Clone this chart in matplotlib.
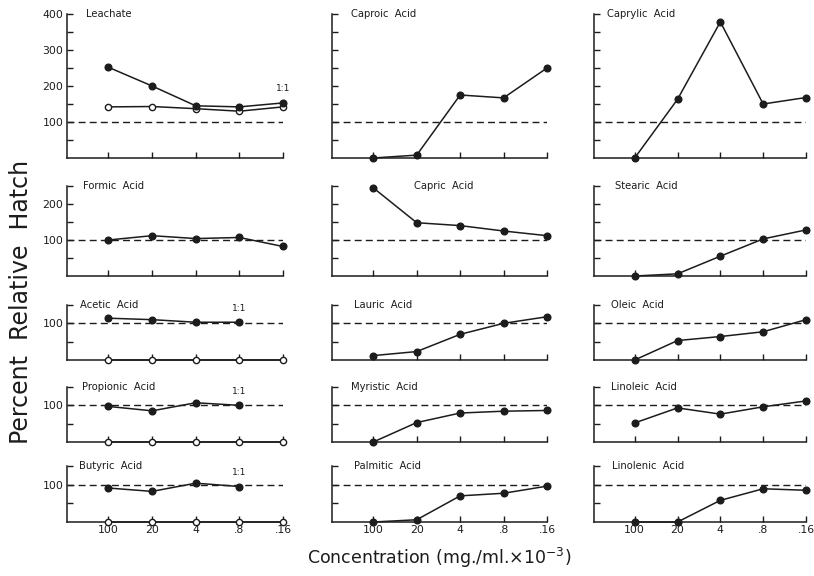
import numpy as np
import matplotlib
matplotlib.use("Agg")
import matplotlib.pyplot as plt

# concentration steps (mg./ml. x 10^-3)
x_labels = ["100", "20", "4", ".8", ".16"]

leachate_filled = [252, 200, 145, 142, 153]
leachate_open = [142, 143, 137, 130, 142]
caproic = [0, 8, 175, 167, 250]
caprylic = [0, 163, 378, 150, 168]

formic = [100, 112, 104, 107, 82]
capric = [245, 148, 140, 125, 112]
stearic = [0, 6, 55, 103, 128]

acetic_filled = [114, 110, 103, 103]
acetic_open = [0, 0, 0, 0, 0]
lauric = [12, 23, 70, 100, 118]
oleic = [0, 53, 64, 77, 110]

propionic_filled = [97, 85, 107, 100]
propionic_open = [0, 0, 0, 0, 0]
myristic = [0, 53, 79, 84, 86]
linoleic = [52, 93, 76, 96, 112]

butyric_filled = [91, 82, 104, 95]
butyric_open = [0, 0, 0, 0, 0]
palmitic = [0, 6, 70, 77, 96]
linolenic = [0, 0, 58, 89, 85]

# (title, filled series, open series, title x pos in axes fraction, show "1:1")
panels = [
    [("Leachate", leachate_filled, leachate_open, 0.09, True),
     ("Caproic  Acid", caproic, None, 0.09, False),
     ("Caprylic  Acid", caprylic, None, 0.06, False)],
    [("Formic  Acid", formic, None, 0.075, False),
     ("Capric  Acid", capric, None, 0.38, False),
     ("Stearic  Acid", stearic, None, 0.10, False)],
    [("Acetic  Acid", acetic_filled, acetic_open, 0.06, True),
     ("Lauric  Acid", lauric, None, 0.10, False),
     ("Oleic  Acid", oleic, None, 0.08, False)],
    [("Propionic  Acid", propionic_filled, propionic_open, 0.07, True),
     ("Myristic  Acid", myristic, None, 0.09, False),
     ("Linoleic  Acid", linoleic, None, 0.08, False)],
    [("Butyric  Acid", butyric_filled, butyric_open, 0.055, True),
     ("Palmitic  Acid", palmitic, None, 0.10, False),
     ("Linolenic  Acid", linolenic, None, 0.085, False)],
]
row_top = [400, 250, 150, 150, 150]

W, H = 814, 576
col_px = [(67, 283), (332, 547), (594, 806)]
row_px = [(14, 158), (186, 276), (305, 360), (387, 442), (466, 522)]

ink = "#1c1c1c"
fig = plt.figure(figsize=(W / 100, H / 100), dpi=100)

for r, row in enumerate(panels):
    for c, (name, filled, opened, tx, one_one) in enumerate(row):
        x0, x1 = col_px[c]
        y0, y1 = row_px[r]
        ax = fig.add_axes([x0 / W, 1 - y1 / H, (x1 - x0) / W, (y1 - y0) / H])
        top = row_top[r]
        ax.set_xlim(-0.95, 4)
        ax.set_ylim(0, top)
        for s in ["top", "right"]:
            ax.spines[s].set_visible(False)
        for s in ["left", "bottom"]:
            ax.spines[s].set_color(ink)
            ax.spines[s].set_linewidth(1.1)

        yt = np.arange(50, top + 1, 50)
        ax.set_yticks(yt)
        if c == 0:
            ax.set_yticklabels([str(v) if v % 100 == 0 else "" for v in yt])
        else:
            ax.set_yticklabels([])
        ax.set_xticks(range(5))
        if r == len(panels) - 1:
            ax.set_xticklabels(x_labels)
        else:
            ax.set_xticklabels([])
        ax.tick_params(direction="in", length=4.5, width=1, color=ink,
                       labelsize=7.8, labelcolor=ink, pad=2.5)

        ax.axhline(100, color=ink, lw=1, ls=(0, (5, 3)), zorder=1)

        if opened is not None:
            ax.plot(range(len(opened)), opened, "-o", color=ink, lw=1.1, ms=4.5,
                    mfc="white", mew=1, clip_on=False, zorder=3)
        ax.plot(range(len(filled)), filled, "-o", color=ink, lw=1.1, ms=4.8,
                clip_on=False, zorder=4)

        if one_one:
            i = len(filled) - 1
            ax.annotate("1:1", (i, filled[i]), xytext=(0, 7), textcoords="offset points",
                        ha="center", va="bottom", fontsize=6.5, color=ink)

        ax.text(tx, 1.0, name, transform=ax.transAxes, ha="left", va="center",
                fontsize=7.2, color=ink)

fig.text(0.026, 0.475, "Percent  Relative  Hatch", rotation=90, ha="center",
         va="center", fontsize=17, color=ink)
fig.text(0.54, 0.031, "Concentration (mg./ml.×10$^{-3}$)", ha="center",
         va="center", fontsize=12.5, color=ink)

fig.savefig("out.png", dpi=100, facecolor="white")
